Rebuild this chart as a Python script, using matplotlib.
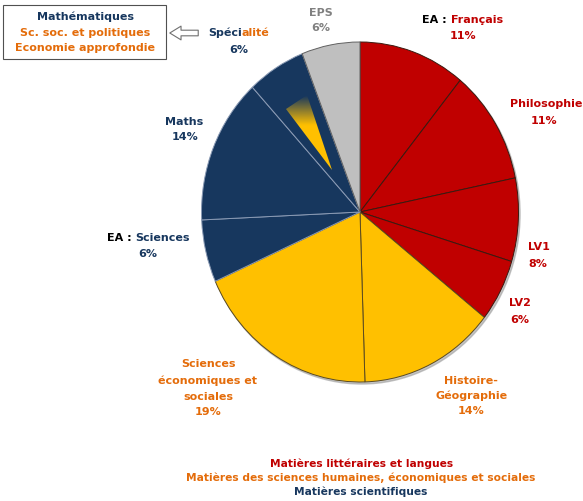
import numpy as np
import matplotlib
matplotlib.use("Agg")
import matplotlib.pyplot as plt
from matplotlib.patches import Ellipse, Polygon, Rectangle, FancyArrowPatch

# Slices, clockwise from 12 o'clock
slice_names = ["Français", "Philosophie", "LV1", "LV2", "Histoire-Géographie",
               "Sciences économiques et sociales", "EA : Sciences", "Maths",
               "Spécialité", "EPS"]
slice_values = [11, 11, 8, 6, 14, 19, 6, 14, 6, 6]
slice_groups = ["lit", "lit", "lit", "lit", "ses", "ses", "sci", "sci", "sci", "eps"]

legend_lines = ["Matières littéraires et langues",
                "Matières des sciences humaines, économiques et sociales",
                "Matières scientifiques"]
box_lines = ["Mathématiques", "Sc. soc. et politiques", "Economie approfondie"]

RED, ORANGE, NAVY, GREY = "#C00000", "#E46C0A", "#17375E", "#808080"
fill = {"lit": "#C00000", "ses": "#FFC000", "sci": "#17375E", "eps": "#BFBFBF"}
edge = {"lit": "#3a1a10", "ses": "#5a4a20", "sci": "#8a9ab4", "eps": "#606060"}

W, H = 583, 501
CX, CY, RX, RY = 360, 212, 158.5, 170

fig = plt.figure(figsize=(W / 100, H / 100), dpi=100)
ax = fig.add_axes([0, 0, 1, 1])


def d(px, py):
    # pixel -> data coords (pie radius = 1)
    return (px - CX) / RX, (CY - py) / RY


# soft shadow under the pie
ax.add_patch(Ellipse((0.01, -0.012), 2.0, 2.0, color="#a0a0a0", alpha=0.6, zorder=0))

wedges, _ = ax.pie(slice_values, startangle=90, counterclock=False, radius=1,
                   colors=[fill[g] for g in slice_groups],
                   wedgeprops=dict(linewidth=0.7))
for w, g in zip(wedges, slice_groups):
    w.set_edgecolor(edge[g])
    w.set_zorder(1)

# yellow gradient wedge inside "Spécialité"
tri = [d(286, 109), d(307, 95), d(332, 170)]
poly = Polygon(tri, closed=True, fc="none", ec="none")
ax.add_patch(poly)
xs = [p[0] for p in tri]
ys = [p[1] for p in tri]
n = 64
grad = np.zeros((n, 4))
grad[:, :3] = matplotlib.colors.to_rgb("#FFC000")
t = np.linspace(0, 1, n)
grad[:, 3] = np.clip(t / 0.4, 0, 1)
img = np.repeat(grad[:, None, :], 4, axis=1)
im = ax.imshow(img, extent=(min(xs), max(xs), min(ys), max(ys)), origin="upper",
               aspect="auto", zorder=2, interpolation="bilinear")
im.set_clip_path(poly)

ax.set_aspect("auto")
ax.set_xlim(d(0, 0)[0], d(W, 0)[0])
ax.set_ylim(d(0, H)[1], d(0, 0)[1])
ax.axis("off")

FS = 8


def label(px, py, text, color, size=FS):
    fig.text(px / W, 1 - py / H, text, color=color, fontsize=size, fontweight="bold",
             ha="center", va="center")


def label2(px_left, py, first, c1, second, c2, gap=0, size=FS):
    # two-colour line: second part chained to the right end of the first
    t1 = fig.text(px_left / W, 1 - py / H, first, color=c1, fontsize=size,
                  fontweight="bold", ha="left", va="center")
    ax.annotate(second, xy=(1, 0), xycoords=t1, xytext=(gap, 0),
                textcoords="offset pixels", color=c2, fontsize=size,
                fontweight="bold", ha="left", va="bottom", annotation_clip=False)


label2(422, 20, "EA :", "black", "Français", RED, gap=4)
label(463, 36, "11%", RED)
label(546, 104, "Philosophie", RED)
label(544, 121, "11%", RED)
label(539, 247, "LV1", RED)
label(538, 264, "8%", RED)
label(520, 303, "LV2", RED)
label(520, 320, "6%", RED)
label(471, 381, "Histoire-", ORANGE)
label(472, 396, "Géographie", ORANGE)
label(471, 411, "14%", ORANGE)
label(208, 364, "Sciences", ORANGE)
label(207, 381, "économiques et", ORANGE)
label(208, 397, "sociales", ORANGE)
label(208, 412, "19%", ORANGE)
label2(107, 238, "EA :", "black", "Sciences", NAVY, gap=4)
label(148, 254, "6%", NAVY)
label(184, 122, "Maths", NAVY)
label(185, 137, "14%", NAVY)
label2(208, 33, "Spéci", NAVY, "alité", ORANGE, gap=0)
label(239, 50, "6%", NAVY)
label(321, 13, "EPS", GREY)
label(321, 28, "6%", GREY)

# box with specialities and hollow arrow
fig.add_artist(Rectangle((3 / W, 1 - 59 / H), 163 / W, 54 / H, transform=fig.transFigure,
                         fc="white", ec="#505050", lw=0.8))
label(85, 17, box_lines[0], NAVY)
label(85, 33, box_lines[1], ORANGE)
label(85, 48, box_lines[2], ORANGE)
fig.add_artist(FancyArrowPatch((201 / W, 1 - 33 / H), (167 / W, 1 - 33 / H),
                               transform=fig.transFigure,
                               arrowstyle="simple,head_length=0.9,head_width=1.1,tail_width=0.45",
                               mutation_scale=9, fc="white", ec="#707070", lw=0.8))

label(362, 464, legend_lines[0], RED, size=7.7)
label(361, 478, legend_lines[1], ORANGE, size=7.7)
label(361, 492, legend_lines[2], NAVY, size=7.7)

fig.savefig("out.png", dpi=100)
